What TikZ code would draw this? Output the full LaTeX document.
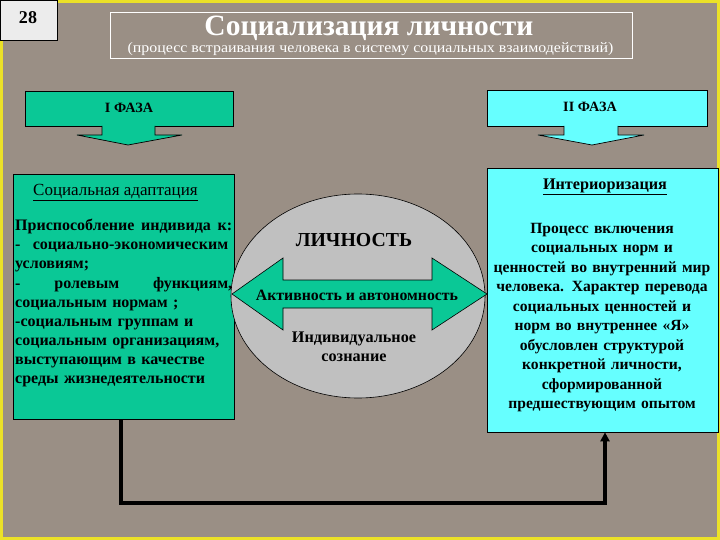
\documentclass[tikz,border=0pt]{standalone}
\usepackage{fontspec}
\usepackage{graphicx}
\setmainfont{Liberation Serif}
\usetikzlibrary{arrows.meta,shapes.geometric}
\definecolor{bgc}{RGB}{154,143,133}
\definecolor{grn}{RGB}{10,200,150}
\definecolor{cyn}{RGB}{102,255,255}
\definecolor{elg}{RGB}{192,192,192}
\definecolor{frame}{RGB}{235,225,40}
\tikzset{
  boxgrn/.style={draw=black, line width=0.7pt, fill=grn, inner sep=0pt},
  boxcyn/.style={draw=black, line width=0.7pt, fill=cyn, inner sep=0pt},
  phasetxt/.style={font=\bfseries\fontsize{14.2}{16}\selectfont},
  bodytxt/.style={inner sep=0pt, font=\bfseries\fontsize{16}{19.15}\selectfont},
  rbodytxt/.style={inner sep=0pt, font=\bfseries\fontsize{15.6}{19.45}\selectfont},
  headtxt/.style={inner sep=0pt, font=\fontsize{17}{19}\selectfont},
}
\begin{document}
\begin{tikzpicture}[x=1pt,y=-1pt]
\useasboundingbox (0,0) rectangle (720,540);
\fill[bgc] (0,0) rectangle (720,540);
\draw[frame, line width=3pt] (1.5,1.5) rectangle (718.5,538.5);

% number box
\node[draw=black, line width=0.8pt, fill=gray!15, minimum width=57pt, minimum height=40pt,
      anchor=north west, inner sep=0pt] (numbox) at (0,0) {};
\node[font=\bfseries\fontsize{18}{20}\selectfont] (num) at (28,18) {28};

% title
\node[draw=white, line width=0.6pt, minimum width=522pt, minimum height=45.5pt,
      anchor=north west, inner sep=0pt] (tbox) at (110,12.5) {};
\node[text=white, inner sep=0pt, anchor=base, font=\bfseries\fontsize{29.5}{32}\selectfont] (title) at (369,36) {Социализация личности};
\node[text=white, inner sep=0pt, anchor=base, font=\fontsize{14.5}{16}\selectfont] (subtitle) at (370.5,52.5)
  {\scalebox{1.097}[1]{(процесс встраивания человека в систему социальных взаимодействий)}};

% phase I
\node[boxgrn, minimum width=208pt, minimum height=35pt] (ph1) at (129,108.5) {};
\node[phasetxt] (ph1t) at (129,107.5) {I ФАЗА};
\fill[grn] (102,125.5) -- (102,135) -- (77,135) -- (128,145) -- (182,135) -- (155,135) -- (155,125.5) -- cycle;
\draw[line width=0.7pt] (102,126) -- (102,135) -- (77,135) -- (128,145) -- (182,135) -- (155,135) -- (155,126);

% phase II
\node[boxcyn, minimum width=220pt, minimum height=36pt] (ph2) at (597,108) {};
\node[phasetxt] (ph2t) at (590,107) {II ФАЗА};
\fill[cyn] (564,125.5) -- (564,135) -- (538,135) -- (592,145) -- (644,135) -- (618,135) -- (618,125.5) -- cycle;
\draw[line width=0.7pt] (564,126) -- (564,135) -- (538,135) -- (592,145) -- (644,135) -- (618,135) -- (618,126);

% left box
\node[boxgrn, minimum width=221pt, minimum height=245pt] (adapt) at (123.5,296.5) {};
\node[headtxt, anchor=west] (adhead) at (33,193) {\underline{Социальная адаптация}};
\node[bodytxt, anchor=north west, text width=217pt, align=left] (adbody) at (15,219)
{\makebox[217pt][l]{Приспособление\hfill индивида\hfill к:}\\
\makebox[213pt][l]{-\hspace{6pt}\hfill социально-экономическим}\\
условиям;\\
\makebox[217pt][l]{-\hfill ролевым\hfill функциям,}\\
социальным нормам ;\\
-социальным группам и\\
социальным организациям,\\
выступающим в качестве\\
среды жизнедеятельности};

% right box
\node[boxcyn, minimum width=231pt, minimum height=264pt] (inter) at (602.5,300) {};
\node[inner sep=0pt, font=\bfseries\fontsize{16.2}{19}\selectfont] (inhead) at (605,187) {\underline{Интериоризация}};
\node[rbodytxt, anchor=north, text width=228pt, align=center] (inbody) at (602,223)
{Процесс включения\\
социальных норм и\\
ценностей во внутренний мир\\
человека. Характер перевода\\
социальных ценностей и\\
норм во внутреннее «Я»\\
обусловлен структурой\\
конкретной личности,\\
сформированной\\
предшествующим опытом};

% personality ellipse
\node[ellipse, draw=black, line width=0.6pt, fill=elg, minimum width=254pt, minimum height=204pt, inner sep=0pt] (pers) at (358,296) {};
\node[font=\bfseries\fontsize{19.8}{22}\selectfont] (lich) at (354,240) {ЛИЧНОСТЬ};
\fill[grn, draw=black, line width=0.6pt] (232,294) -- (283,258) -- (283,280) -- (432,280) -- (432,258) -- (487,294)
  -- (432,330) -- (432,308) -- (283,308) -- (283,330) -- cycle;
\node[font=\bfseries\fontsize{15.8}{18}\selectfont] (act) at (357,295) {Активность и автономность};
\node[align=center, font=\bfseries\fontsize{16.2}{19}\selectfont] (cons) at (354,346.5) {Индивидуальное\\сознание};

% connector
\draw[line width=4pt, -{Triangle[length=9pt,width=9pt]}] ([xshift=-2.5pt]adapt.south) -- ++(0,84) -| ([xshift=2.5pt]inter.south);
\end{tikzpicture}
\end{document}
